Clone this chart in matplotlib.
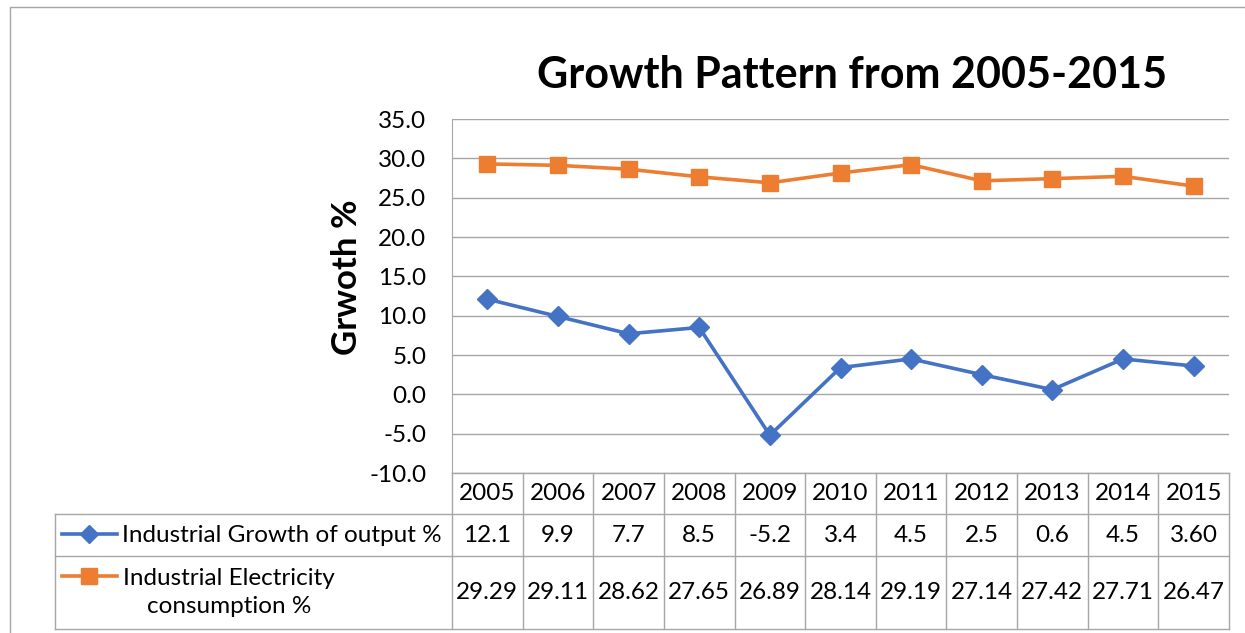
import numpy as np
import matplotlib
matplotlib.use('Agg')
import matplotlib.pyplot as plt
from matplotlib.lines import Line2D
import matplotlib.transforms as mtransforms

years = ['2005', '2006', '2007', '2008', '2009', '2010', '2011', '2012', '2013', '2014', '2015']
output_growth = [12.1, 9.9, 7.7, 8.5, -5.2, 3.4, 4.5, 2.5, 0.6, 4.5, 3.60]
output_labels = ['12.1', '9.9', '7.7', '8.5', '-5.2', '3.4', '4.5', '2.5', '0.6', '4.5', '3.60']
elec_share = [29.29, 29.11, 28.62, 27.65, 26.89, 28.14, 29.19, 27.14, 27.42, 27.71, 26.47]
elec_labels = ['29.29', '29.11', '28.62', '27.65', '26.89', '28.14', '29.19', '27.14', '27.42', '27.71', '26.47']
series_names = ['Industrial Growth of output %', 'Industrial Electricity\nconsumption %']

blue = '#4472C4'
orange = '#ED7D31'
grid = '#A6A6A6'
fs = 17.5

plt.rcParams['font.family'] = ['Lato', 'DejaVu Sans']

W, H = 1245, 633
fig = plt.figure(figsize=(W / 100, H / 100), dpi=100)


def fx(px):
    return px / W


def fy(py):
    return 1 - py / H


# plot area
left, right, top, bottom = 452, 1229, 119, 473
ax = fig.add_axes([fx(left), fy(bottom), fx(right - left), (bottom - top) / H])

x = np.arange(len(years))
ax.plot(x, output_growth, color=blue, lw=2.6, marker='D', ms=10.5, mfc=blue, mec=blue)
ax.plot(x, elec_share, color=orange, lw=2.6, marker='s', ms=12, mfc=orange, mec=orange)

ax.set_xlim(-0.5, len(years) - 0.5)
ax.set_ylim(-10, 35)
ax.set_yticks(np.arange(-10, 36, 5))
ax.set_yticklabels([f'{v:.1f}' for v in np.arange(-10, 36, 5)], fontsize=fs)
ax.set_xticks([])
ax.tick_params(axis='y', length=0, pad=18.5)
ax.grid(axis='y', color=grid, lw=1)
for s in ['right', 'bottom', 'top']:
    ax.spines[s].set_visible(False)
ax.spines['left'].set_color(grid)

fig.text(fx(852), fy(75), 'Growth Pattern from 2005-2015', fontsize=31, fontweight='bold',
         ha='center', va='center')
fig.text(fx(347), fy(277), 'Grwoth %', fontsize=25, fontweight='bold', rotation=90,
         ha='center', va='center')

# data table below the plot
rows = [473, 514, 556, 629]
tleft = 55
col_edges = np.arange(len(years) + 1) - 0.5
btrans = mtransforms.blended_transform_factory(ax.transData, fig.transFigure)


def hline(x0, x1, y):
    fig.add_artist(Line2D([fx(x0), fx(x1)], [fy(y), fy(y)], color=grid, lw=1))


def vline(xp, y0, y1):
    fig.add_artist(Line2D([fx(xp), fx(xp)], [fy(y0), fy(y1)], color=grid, lw=1))


hline(left, right, rows[0])
hline(tleft, right, rows[1])
hline(tleft, right, rows[2])
hline(tleft, right, rows[3])
vline(tleft, rows[1], rows[3])
for e in col_edges:
    fig.add_artist(Line2D([e, e], [fy(rows[0]), fy(rows[3])], color=grid, lw=1, transform=btrans))

for i, yr in enumerate(years):
    fig.text(i, fy((rows[0] + rows[1]) / 2), yr, fontsize=fs, ha='center', va='center', transform=btrans)
    fig.text(i, fy((rows[1] + rows[2]) / 2), output_labels[i], fontsize=fs, ha='center', va='center', transform=btrans)
    fig.text(i, fy((rows[2] + rows[3]) / 2), elec_labels[i], fontsize=fs, ha='center', va='center', transform=btrans)

# legend keys inside the table
for (yc, col, mk, ms) in [(534, blue, 'D', 9.5), (576, orange, 's', 11)]:
    fig.add_artist(Line2D([fx(62), fx(117)], [fy(yc), fy(yc)], color=col, lw=2.6))
    fig.add_artist(Line2D([fx(89)], [fy(yc)], color=col, marker=mk, ms=ms, mfc=col, mec=col))

fig.text(fx(122), fy((rows[1] + rows[2]) / 2), series_names[0], fontsize=fs, ha='left', va='center')
fig.text(fx(229), fy((rows[2] + rows[3]) / 2), series_names[1], fontsize=fs, ha='center', va='center',
         linespacing=1.4)

# outer chart frame (cropped)
fig.add_artist(Line2D([fx(10), fx(10), 1], [0, fy(7), fy(7)], color=grid, lw=1))

fig.savefig('out.png', dpi=100)
